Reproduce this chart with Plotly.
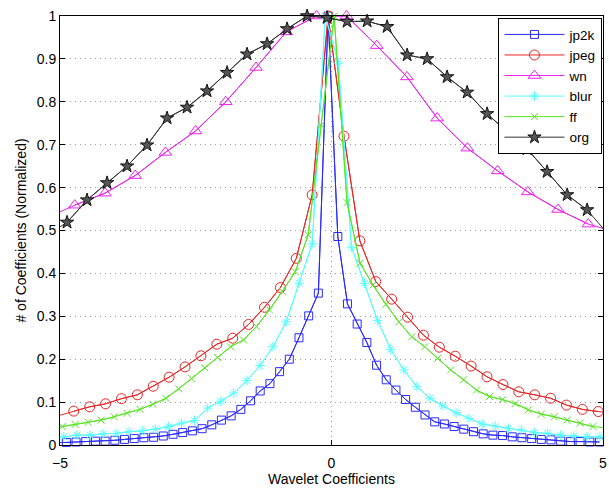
import plotly.graph_objects as go

# ---- data ----
jp2k_x = [-5.061, -4.883, -4.704, -4.526, -4.347, -4.169, -3.990, -3.812, -3.633, -3.455,
          -3.276, -3.098, -2.919, -2.741, -2.562, -2.384, -2.205, -2.027, -1.848, -1.670,
          -1.491, -1.313, -1.134, -0.956, -0.777, -0.599, -0.420, -0.242, -0.063, 0.116,
          0.294, 0.473, 0.651, 0.830, 1.008, 1.187, 1.365, 1.544, 1.722, 1.901,
          2.079, 2.258, 2.436, 2.615, 2.793, 2.972, 3.150, 3.329, 3.507, 3.686,
          3.864, 4.043, 4.221, 4.400, 4.578, 4.757, 4.935]
jp2k_y = [0.005, 0.006, 0.007, 0.008, 0.009, 0.009, 0.011, 0.013, 0.015, 0.017,
          0.018, 0.021, 0.025, 0.029, 0.033, 0.038, 0.047, 0.058, 0.068, 0.083,
          0.103, 0.126, 0.143, 0.171, 0.200, 0.250, 0.301, 0.354, 1.000, 0.486,
          0.329, 0.282, 0.239, 0.186, 0.152, 0.128, 0.106, 0.088, 0.070, 0.054,
          0.049, 0.043, 0.037, 0.031, 0.026, 0.023, 0.022, 0.019, 0.017, 0.015,
          0.013, 0.012, 0.009, 0.008, 0.008, 0.007, 0.007]

jpeg_x = [-5.039, -4.746, -4.453, -4.161, -3.868, -3.575, -3.283, -2.990, -2.697, -2.405,
          -2.112, -1.819, -1.527, -1.234, -0.941, -0.648, -0.356, -0.063, 0.230, 0.522,
          0.815, 1.108, 1.401, 1.693, 1.986, 2.279, 2.571, 2.864, 3.157, 3.449,
          3.742, 4.035, 4.327, 4.620, 4.913, 5.206]
jpeg_y = [0.068, 0.079, 0.089, 0.096, 0.108, 0.117, 0.137, 0.158, 0.182, 0.208,
          0.235, 0.249, 0.281, 0.321, 0.367, 0.435, 0.583, 1.000, 0.720, 0.476,
          0.381, 0.340, 0.298, 0.256, 0.228, 0.207, 0.184, 0.159, 0.141, 0.124,
          0.117, 0.109, 0.093, 0.083, 0.078, 0.074]

wn_x = [-5.286, -4.729, -4.172, -3.616, -3.059, -2.503, -1.946, -1.389, -0.833, -0.276,
        0.276, 0.833, 1.389, 1.946, 2.503, 3.059, 3.616, 4.172, 4.729, 5.286]
wn_y = [0.527, 0.559, 0.587, 0.628, 0.682, 0.732, 0.800, 0.880, 0.963, 1.000,
        1.000, 0.931, 0.858, 0.762, 0.692, 0.639, 0.590, 0.549, 0.515, 0.494]

blur_x = [-5.171, -4.930, -4.689, -4.448, -4.208, -3.967, -3.726, -3.485, -3.244, -3.004,
          -2.763, -2.522, -2.281, -2.040, -1.800, -1.559, -1.318, -1.077, -0.836, -0.596,
          -0.355, -0.114, 0.127, 0.368, 0.608, 0.849, 1.090, 1.331, 1.572, 1.812,
          2.053, 2.294, 2.535, 2.776, 3.016, 3.257, 3.498, 3.739, 3.980, 4.220,
          4.461, 4.702, 4.943, 5.184]
blur_y = [0.018, 0.019, 0.023, 0.023, 0.026, 0.027, 0.031, 0.033, 0.037, 0.043,
          0.051, 0.057, 0.086, 0.102, 0.121, 0.150, 0.185, 0.229, 0.287, 0.377,
          0.469, 1.000, 0.890, 0.461, 0.377, 0.290, 0.223, 0.175, 0.136, 0.109,
          0.091, 0.075, 0.062, 0.049, 0.044, 0.039, 0.035, 0.029, 0.027, 0.023,
          0.021, 0.019, 0.019, 0.018]

ff_x = [-5.197, -4.958, -4.720, -4.482, -4.243, -4.005, -3.766, -3.528, -3.290, -3.051,
        -2.813, -2.574, -2.336, -2.098, -1.859, -1.621, -1.382, -1.144, -0.906, -0.667,
        -0.429, -0.190, 0.048, 0.286, 0.525, 0.763, 1.002, 1.240, 1.478, 1.717,
        1.955, 2.194, 2.432, 2.670, 2.909, 3.147, 3.386, 3.624, 3.862, 4.101,
        4.339, 4.578, 4.816, 5.054]
ff_y = [0.040, 0.043, 0.048, 0.053, 0.058, 0.066, 0.074, 0.083, 0.095, 0.109,
        0.131, 0.155, 0.180, 0.204, 0.229, 0.245, 0.276, 0.315, 0.358, 0.404,
        0.490, 0.746, 1.000, 0.565, 0.424, 0.373, 0.328, 0.287, 0.252, 0.229,
        0.202, 0.175, 0.152, 0.128, 0.113, 0.106, 0.096, 0.082, 0.072, 0.066,
        0.058, 0.051, 0.043, 0.040]

org_x = [-5.239, -4.870, -4.502, -4.133, -3.765, -3.397, -3.028, -2.660, -2.292, -1.923,
         -1.555, -1.186, -0.818, -0.449, -0.081, 0.287, 0.656, 1.024, 1.393, 1.761,
         2.129, 2.498, 2.866, 3.234, 3.603, 3.971, 4.340, 4.708, 5.077]
org_y = [0.490, 0.519, 0.571, 0.611, 0.650, 0.699, 0.762, 0.787, 0.825, 0.868,
         0.911, 0.935, 0.970, 1.000, 0.996, 0.987, 0.988, 0.975, 0.909, 0.900,
         0.858, 0.822, 0.772, 0.730, 0.690, 0.637, 0.583, 0.548, 0.494]

x_ticks = [-5, 0, 5]
x_tick_labels = ["\u22125", "0", "5"]
y_ticks = [0, 0.1, 0.2, 0.3, 0.4, 0.5, 0.6, 0.7, 0.8, 0.9, 1]
y_tick_labels = ["0", "0.1", "0.2", "0.3", "0.4", "0.5", "0.6", "0.7", "0.8", "0.9", "1"]

series = [
    ("jp2k", jp2k_x, jp2k_y, "#2a2aff", dict(symbol="square-open", size=8)),
    ("jpeg", jpeg_x, jpeg_y, "#e82525", dict(symbol="circle-open", size=10)),
    ("wn", wn_x, wn_y, "#ee22ee", dict(symbol="triangle-up-open", size=11)),
    ("blur", blur_x, blur_y, "#55ffff", dict(symbol="asterisk-open", size=8)),
    ("ff", ff_x, ff_y, "#55e622", dict(symbol="x-thin-open", size=7)),
    ("org", org_x, org_y, "#333333", dict(symbol="star", size=10)),
]

XMIN, XMAX = -5, 5
fig = go.Figure()
for name, xs, ys, col, mk in series:
    fig.add_trace(go.Scatter(x=xs, y=ys, mode="lines", line=dict(color=col, width=1),
                             showlegend=False, hoverinfo="skip", legendgroup=name))
    xin = [a for a in xs if XMIN <= a <= XMAX]
    yin = [b for a, b in zip(xs, ys) if XMIN <= a <= XMAX]
    marker = dict(mk)
    if name == "org":
        marker.update(color="#555555", line=dict(color="#111111", width=1))
    else:
        marker.update(color=col, line=dict(color=col, width=1))
    fig.add_trace(go.Scatter(x=xin, y=yin, mode="lines+markers", name=name,
                             line=dict(color=col, width=1), marker=marker,
                             cliponaxis=False, legendgroup=name))

FONT = "Liberation Sans, Arial, Helvetica, sans-serif"
axis_common = dict(showline=True, linecolor="black", linewidth=1, mirror="ticks",
                   ticks="inside", ticklen=5, tickcolor="black", automargin=False,
                   showgrid=True, gridcolor="#9a9a9a", griddash="1px,4px", gridwidth=1,
                   zeroline=False, tickfont=dict(size=14, color="black", family=FONT))

fig.update_xaxes(range=[XMIN, XMAX], tickvals=x_ticks, ticktext=x_tick_labels,
                 ticklabelstandoff=5,
                 title=dict(text="Wavelet Coefficients", font=dict(size=14, family=FONT, color="black"),
                            standoff=2), **axis_common)
fig.update_yaxes(range=[0, 1], tickvals=y_ticks, ticktext=y_tick_labels,
                 title=dict(text="# of Coefficients (Normalized)", font=dict(size=14, family=FONT, color="black"),
                            standoff=6), **axis_common)

fig.update_layout(
    width=609, height=488,
    margin=dict(l=60, r=6, t=16, b=43),
    paper_bgcolor="white", plot_bgcolor="white",
    font=dict(family=FONT, size=14, color="black"),
    legend=dict(x=0.999, y=0.995, xanchor="right", yanchor="top",
                bgcolor="white", bordercolor="black", borderwidth=1,
                font=dict(size=13.5, family=FONT), itemwidth=60,
                tracegroupgap=0),
    showlegend=True,
)

fig.write_html("out.html", config={"displayModeBar": False},
               post_script="document.body.style.margin='0px';document.body.style.overflow='hidden';")
